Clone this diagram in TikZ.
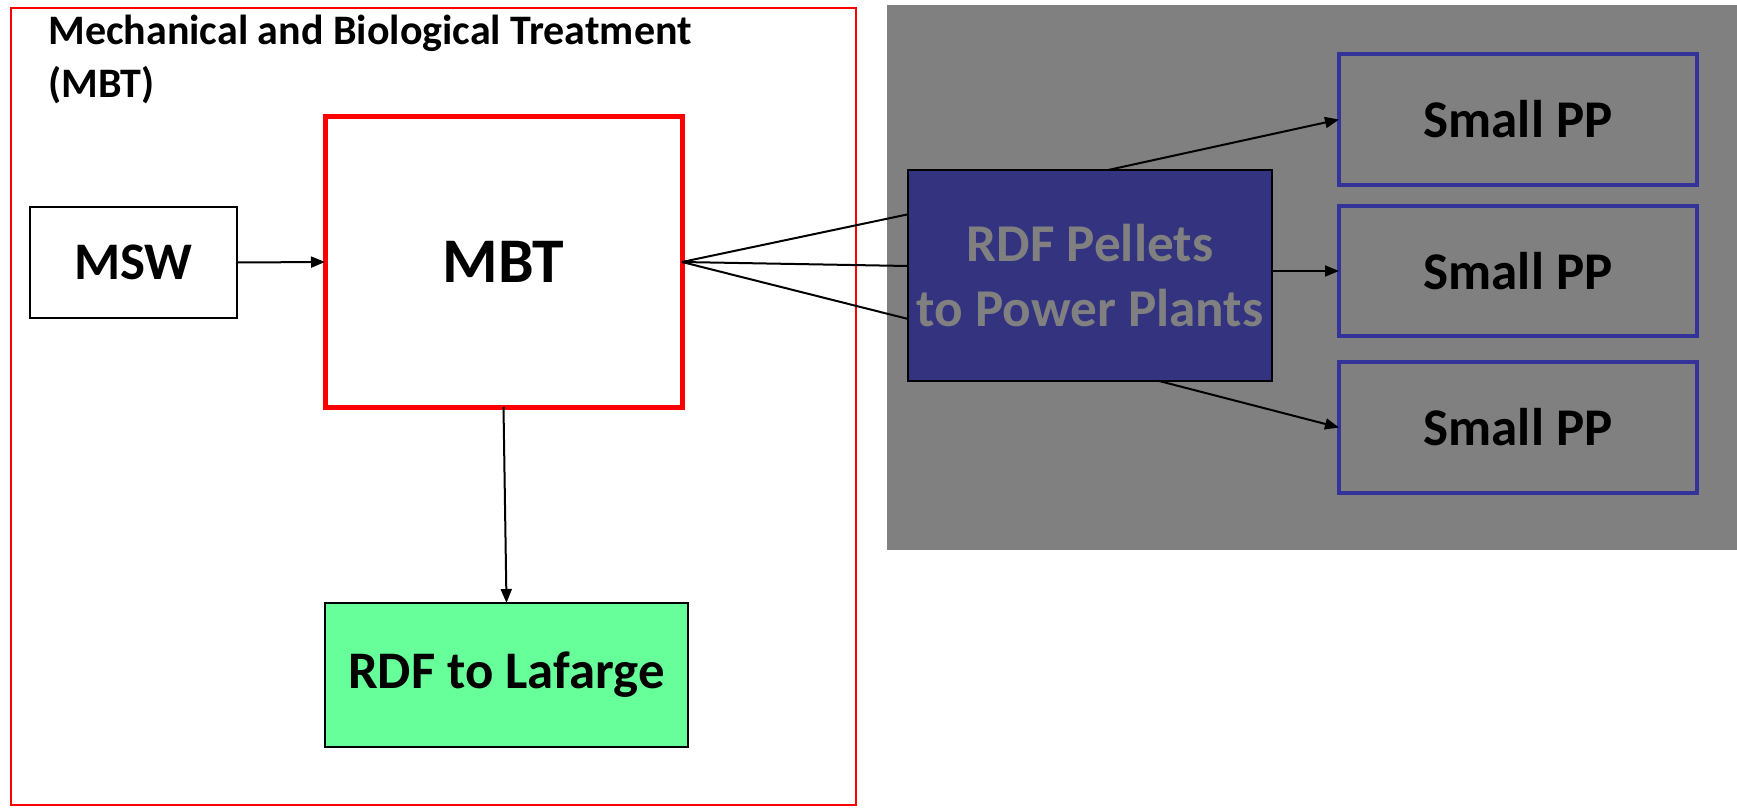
\documentclass[tikz,border=0pt]{standalone}
\usepackage{fontspec}
\setmainfont{Carlito}
\usetikzlibrary{arrows.meta,calc}
\definecolor{pptred}{RGB}{255,0,0}
\definecolor{navyfill}{RGB}{51,51,128}
\definecolor{ppblue}{RGB}{51,51,153}
\definecolor{bggray}{RGB}{128,128,128}
\definecolor{mintfill}{RGB}{102,255,153}
\definecolor{txtgray}{RGB}{128,128,128}
\tikzset{
  box/.style={draw, inner sep=0pt, outer sep=0pt, align=center,
    font=\bfseries\fontsize{26.4}{33}\selectfont},
  ppbox/.style={box, draw=ppblue, line width=2pt, minimum width=179pt,
    font=\bfseries\fontsize{26.5}{30}\selectfont},
  titletext/.style={anchor=base west, inner sep=0pt,
    font=\bfseries\fontsize{21}{25}\selectfont},
  flow/.style={-{Triangle[length=7pt,width=5.5pt]}, line width=1pt},
  link/.style={line width=1pt},
}
\begin{document}
\begin{tikzpicture}[x=0.5pt,y=-0.5pt]
\fill[white] (0,0) rectangle (1737,808);
\useasboundingbox (0,0) rectangle (1737,808);

% MBT area
\node[draw=pptred, line width=1.3pt, minimum width=422.5pt, minimum height=398.5pt,
      inner sep=0pt, outer sep=0pt] (area) at (433.5,406.5) {};
\node[titletext] (t1) at (48,45) {Mechanical and Biological Treatment};
\node[titletext] (t2) at (48,98) {(MBT)};

% gray area
\node[fill=bggray, minimum width=425pt, minimum height=272.5pt,
      inner sep=0pt, outer sep=0pt] (grayarea) at (1312,277.5) {};

% boxes
\node[box, fill=white, line width=1.2pt, minimum width=103.5pt, minimum height=55.5pt]
  (msw) at (133.5,262.5) {MSW};
\node[box, draw=pptred, line width=2.5pt, minimum width=178.5pt, minimum height=145pt,
  font=\bfseries\fontsize{31.8}{36}\selectfont] (mbt) at (503.5,262) {MBT};
\node[box, fill=mintfill, line width=1.2pt, minimum width=181.5pt, minimum height=72pt]
  (laf) at (506.5,675) {\raisebox{-2pt}{RDF to Lafarge}};
\node[box, fill=navyfill, line width=1.2pt, text=txtgray, minimum width=182pt,
  minimum height=105.5pt, font=\bfseries\fontsize{26.6}{32.5}\selectfont]
  (rdf) at (1090,275.5) {\raisebox{-1.5pt}{RDF Pellets}\\\raisebox{-1.5pt}{to Power Plants}};
\node[ppbox, minimum height=65.5pt] (pp1) at (1518,119.5) {\raisebox{-2.2pt}{Small PP}};
\node[ppbox, minimum height=65pt] (pp2) at (1518,271) {\raisebox{-2.2pt}{Small PP}};
\node[ppbox, minimum height=65.5pt] (pp3) at (1518,427.5) {\raisebox{-2.2pt}{Small PP}};

% connectors
\draw[flow] (msw.east) -- (mbt.west);
\draw[flow] (mbt.south) -- (laf.north);
\draw[link] (mbt.east) -- ($(rdf.north west)!0.21!(rdf.south west)$);
\draw[link] (mbt.east) -- ($(rdf.north west)!0.455!(rdf.south west)$);
\draw[link] (mbt.east) -- ($(rdf.north west)!0.706!(rdf.south west)$);
\draw[flow] ($(rdf.north west)!0.55!(rdf.north east)$) -- (pp1.west);
\draw[flow] (pp2.west -| rdf.east) -- (pp2.west);
\draw[flow] ($(rdf.south west)!0.69!(rdf.south east)$) -- (pp3.west);
\end{tikzpicture}
\end{document}
